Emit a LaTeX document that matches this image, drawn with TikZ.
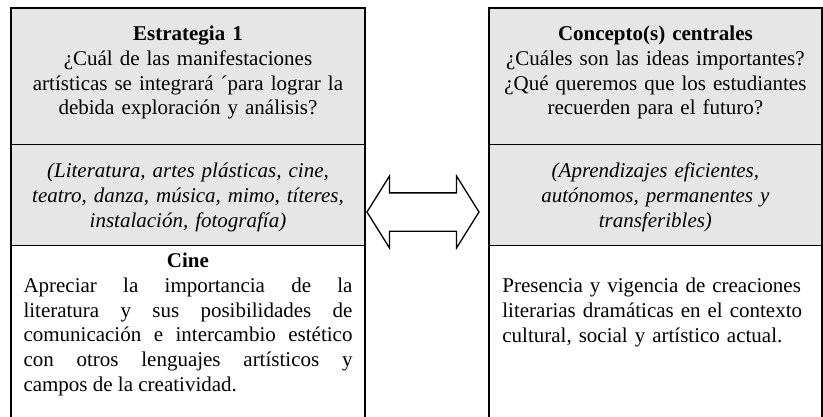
\documentclass[tikz,border=0pt]{standalone}
\usepackage{fontspec}
\setmainfont{Liberation Serif}
\usetikzlibrary{positioning,shapes.arrows}
\definecolor{shade}{HTML}{E6E6E6}

\begin{document}
\begin{tikzpicture}[x=1pt,y=-1pt,inner sep=0pt,
                    font=\fontsize{21}{24.7}\selectfont]
  \tikzstyle{cell}=[rectangle,fill=shade,minimum width=354pt]
  \tikzstyle{wide}=[text width=329pt,align=center,anchor=base]
  \tikzstyle{frame}=[line width=2pt]
  \tikzstyle{rule}=[line width=1.4pt]
  \tikzstyle{twoway}=[double arrow,draw,fill=white,line width=1.3pt,
                      minimum height=112pt,inner xsep=0pt,inner ysep=18.5pt,
                      double arrow head extend=17pt,double arrow tip angle=116]

  \useasboundingbox (0,0) rectangle (823,416);

  \node[cell,minimum height=136pt]                (q1) at (188,76)        {};
  \node[cell,minimum height=101pt]                (q2) [below=0pt of q1]  {};
  \node[cell,minimum height=171pt,fill=white]     (q3) [below=0pt of q2]  {};
  \node[cell,minimum width=332pt,
        minimum height=136pt]                     (c1) [right=124pt of q1] {};
  \node[cell,minimum width=332pt,
        minimum height=101pt]                     (c2) [below=0pt of c1]  {};
  \node[cell,minimum width=332pt,
        minimum height=171pt,fill=white]          (c3) [below=0pt of c2]  {};

  \draw[frame] (q3.south west) -- (q1.north west) -- (q1.north east) -- (q3.south east);
  \draw[rule]  (q1.south west) -- (q1.south east);
  \draw[rule]  (q2.south west) -- (q2.south east);
  \draw[frame] (c3.south west) -- (c1.north west) -- (c1.north east) -- (c3.south east);
  \draw[rule]  (c1.south west) -- (c1.south east);
  \draw[rule]  (c2.south west) -- (c2.south east);

  \node[wide] (estr)   at ([yshift=-33pt]q1.north)
    {\textbf{Estrategia 1}\\¿Cuál de las manifestaciones\\artísticas se integrará ´para lograr la\\debida exploración y análisis?};
  \node[wide] (manif)  at ([yshift=-33.5pt]q2.north)
    {\itshape (Literatura, artes plásticas, cine,\\teatro, danza, música, mimo, títeres,\\instalación, fotografía)};
  \node[wide] (cinehd) at ([yshift=-21.7pt]q3.north) {\textbf{Cine}};
  \node[wide,align=justify] (cinetx) at ([yshift=-46.7pt]q3.north)
    {\tolerance=10000 Apreciar la importancia de la\linebreak literatura y sus posibilidades de\linebreak comunicación e intercambio estético\linebreak con otros lenguajes artísticos y\linebreak campos de la creatividad.};

  \node[wide] (conc)   at ([yshift=-33pt]c1.north)
    {\textbf{Concepto(s) centrales}\\¿Cuáles son las ideas importantes?\\¿Qué queremos que los estudiantes\\recuerden para el futuro?};
  \node[wide] (aprend) at ([yshift=-33.5pt]c2.north)
    {\itshape (Aprendizajes eficientes,\\autónomos, permanentes y\\transferibles)};
  \node[wide,text width=306pt,align=left] (pres) at ([yshift=-47pt]c3.north)
    {Presencia y vigencia de creaciones\\literarias dramáticas en el contexto\\cultural, social y artístico actual.};

  \node[twoway] (link) at (423,212) {};
\end{tikzpicture}
\end{document}
